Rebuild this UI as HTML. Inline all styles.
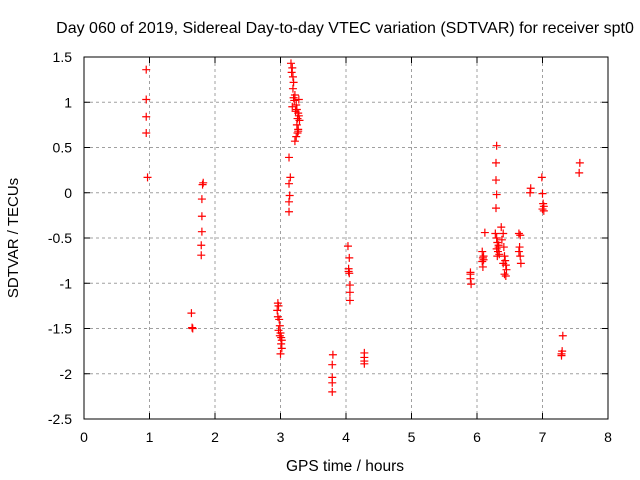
<!DOCTYPE html>
<html><head><meta charset="utf-8"><style>
body{margin:0;background:#fff;}
svg{display:block;font-family:"Liberation Sans",sans-serif;}
</style></head><body>
<svg id="chart" width="640" height="480">
<rect width="640" height="480" fill="#fff"/>
<text x="345" y="33" font-size="16" text-anchor="middle">Day 060 of 2019, Sidereal Day-to-day VTEC variation (SDTVAR) for receiver spt0</text>
<g id="grid"></g>
<rect x="84" y="57" width="524" height="362" fill="none" stroke="#000"/>
<g id="ticks"></g>
<g id="pts"></g>
<text x="345" y="471" font-size="15.5" text-anchor="middle">GPS time / hours</text>
<text x="18" y="238" font-size="15" text-anchor="middle" transform="rotate(-90 18 238)">SDTVAR / TECUs</text>
</svg>
<script>
const xTicks=[0,1,2,3,4,5,6,7,8];
const yTicks=[1.5,1,0.5,0,-0.5,-1,-1.5,-2,-2.5];
const ptX=[0.95,0.95,0.95,0.95,0.97,
1.64,1.65,1.66,1.82,1.81,1.8,1.8,1.8,1.79,1.79,
2.96,2.97,2.95,2.96,2.98,2.99,2.97,3.0,2.99,3.01,3.02,3.01,3.02,3.0,
3.16,3.18,3.17,3.19,3.2,3.19,3.22,3.21,3.24,3.25,3.23,3.27,3.28,3.26,3.29,3.25,3.27,3.26,3.24,3.22,3.18,3.2,3.28,3.27,
3.13,3.15,3.13,3.14,3.13,3.13,
3.8,3.79,3.79,3.79,3.79,
4.03,4.05,4.04,4.04,4.05,4.06,4.06,4.06,
4.28,4.28,4.28,4.28,
5.9,5.9,5.9,5.91,
6.12,6.08,6.1,6.09,6.1,6.08,6.09,
6.3,6.29,6.29,6.3,6.29,6.28,6.3,6.31,6.33,6.3,6.32,6.34,6.31,6.33,
6.37,6.4,6.38,6.41,6.42,6.43,6.44,6.45,6.4,6.42,6.44,
6.64,6.66,6.65,6.64,6.66,6.67,
6.82,6.81,
6.99,7.0,7.01,7.02,7.0,7.02,
7.31,7.3,7.29,7.29,
7.57,7.56];
const ptY=[1.36,1.03,0.84,0.66,0.17,
-1.33,-1.49,-1.5,0.11,0.09,-0.07,-0.26,-0.43,-0.58,-0.69,
-1.22,-1.25,-1.3,-1.37,-1.4,-1.47,-1.52,-1.55,-1.58,-1.6,-1.63,-1.67,-1.72,-1.78,
1.43,1.38,1.33,1.28,1.22,1.15,1.08,1.02,0.97,0.92,0.9,0.88,0.85,0.82,0.8,0.75,0.7,0.66,0.62,0.57,0.95,1.05,1.03,0.68,
0.39,0.17,0.1,-0.03,-0.1,-0.21,
-1.79,-1.9,-2.04,-2.1,-2.2,
-0.59,-0.72,-0.84,-0.87,-0.89,-1.02,-1.1,-1.19,
-1.77,-1.82,-1.86,-1.89,
-0.88,-0.9,-0.95,-1.01,
-0.44,-0.65,-0.7,-0.72,-0.74,-0.76,-0.82,
0.52,0.33,0.14,-0.02,-0.17,-0.45,-0.5,-0.55,-0.58,-0.62,-0.65,-0.68,-0.7,-0.6,
-0.38,-0.45,-0.52,-0.6,-0.7,-0.75,-0.8,-0.85,-0.78,-0.9,-0.92,
-0.45,-0.47,-0.6,-0.65,-0.7,-0.78,
0.05,0.0,
0.17,-0.01,-0.12,-0.15,-0.18,-0.2,
-1.58,-1.75,-1.78,-1.8,
0.33,0.22];
const X=v=>84+v*65.5, Y=v=>57+(1.5-v)*90.5;
const NS="http://www.w3.org/2000/svg";
function mk(t,a,p){const e=document.createElementNS(NS,t);for(const k in a)e.setAttribute(k,a[k]);p.appendChild(e);return e;}
const g=document.getElementById('grid'),tk=document.getElementById('ticks'),pg=document.getElementById('pts');
xTicks.forEach(v=>{const x=X(v);
 if(v>0&&v<8){const l=mk('line',{x1:x,y1:57,x2:x,y2:419,stroke:'#a0a0a0','stroke-dasharray':'3,3'},g);
 
 }
 mk('line',{x1:x,y1:419,x2:x,y2:413,stroke:'#000'},tk);mk('line',{x1:x,y1:57,x2:x,y2:63,stroke:'#000'},tk);
 const t=mk('text',{x:x,y:442,'font-size':14,'text-anchor':'middle'},tk);t.textContent=v;
 
 });
yTicks.forEach(v=>{const y=Y(v);
 if(v<1.5&&v>-2.5){const l=mk('line',{x1:84,y1:y,x2:608,y2:y,stroke:'#a0a0a0','stroke-dasharray':'3,3'},g);
 
 }
 mk('line',{x1:84,y1:y,x2:90,y2:y,stroke:'#000'},tk);mk('line',{x1:608,y1:y,x2:602,y2:y,stroke:'#000'},tk);
 const t=mk('text',{x:72,y:y+5,'font-size':14,'text-anchor':'end'},tk);t.textContent=v;
 
 });
ptX.forEach((xv,i)=>{const x=X(xv),y=Y(ptY[i]);
 const p=mk('path',{d:`M${x-4},${y}h8M${x},${y-4}v8`,stroke:'#f00','stroke-width':1.2},pg);
 
 });
</script>
</body></html>
